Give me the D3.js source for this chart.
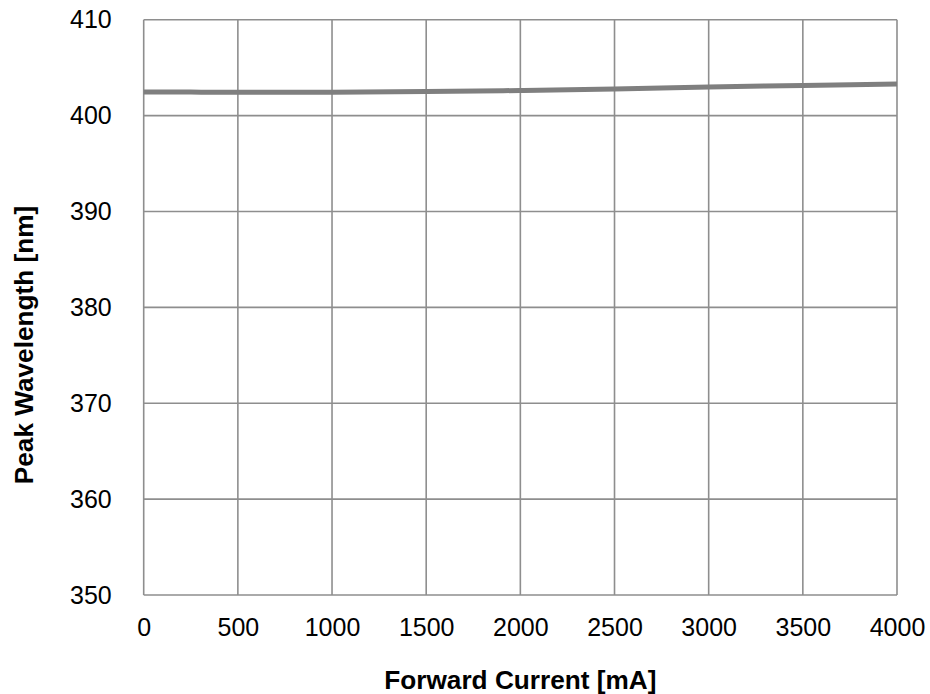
<!DOCTYPE html>
<html><head><meta charset="utf-8">
<script src="https://cdn.jsdelivr.net/npm/d3@7"></script>
<style>body{margin:0;background:#fff}svg{display:block}text{font-family:"Liberation Sans",Arial,sans-serif}</style>
</head><body>
<svg id="c" width="930" height="694"></svg>
<script>
const currents = [0, 250, 500, 750, 1000, 1500, 2000, 2500, 3000, 3500, 4000];
const wavelengths = [402.46, 402.45, 402.43, 402.43, 402.44, 402.5, 402.62, 402.78, 402.98, 403.14, 403.3];
const xTicks = [0, 500, 1000, 1500, 2000, 2500, 3000, 3500, 4000];
const yTicks = [350, 360, 370, 380, 390, 400, 410];
const xTitle = "Forward Current [mA]";
const yTitle = "Peak Wavelength [nm]";

const svg = d3.select("#c");
const L = 143.7, R = 897, T = 19.7, B = 595;
const x = d3.scaleLinear().domain([0, 4000]).range([L, R]);
const y = d3.scaleLinear().domain([350, 410]).range([B, T]);
const grid = "#8e8e8e";

svg.append("g").selectAll("line").data(xTicks).join("line")
  .attr("x1", d => x(d)).attr("x2", d => x(d)).attr("y1", T).attr("y2", B)
  .attr("stroke", grid).attr("stroke-width", 1.6);
svg.append("g").selectAll("line").data(yTicks).join("line")
  .attr("x1", L).attr("x2", R).attr("y1", d => y(d)).attr("y2", d => y(d))
  .attr("stroke", grid).attr("stroke-width", 1.6);

const xa = svg.append("g").attr("transform", `translate(0,${B})`)
  .call(d3.axisBottom(x).tickValues(xTicks).tickSize(0).tickPadding(23).tickFormat(d3.format("d")));
xa.select(".domain").remove();
xa.selectAll("text").attr("font-size", 25).attr("fill", "#000").attr("font-family", "Liberation Sans, Arial, sans-serif");

const ya = svg.append("g").attr("transform", `translate(${L},0)`)
  .call(d3.axisLeft(y).tickValues(yTicks).tickSize(0).tickPadding(32).tickFormat(d3.format("d")));
ya.select(".domain").remove();
ya.selectAll("text").attr("font-size", 25).attr("fill", "#000").attr("font-family", "Liberation Sans, Arial, sans-serif");

svg.append("path").datum(currents.map((c, i) => [c, wavelengths[i]]))
  .attr("d", d3.line().x(d => x(d[0])).y(d => y(d[1])).curve(d3.curveMonotoneX))
  .attr("fill", "none").attr("stroke", "#7f7f7f").attr("stroke-width", 5);

svg.append("text").attr("x", (L + R) / 2).attr("y", 689).attr("text-anchor", "middle")
  .attr("font-size", 26.2).attr("font-weight", "bold").text(xTitle);
svg.append("text").attr("transform", `translate(33,345) rotate(-90)`).attr("text-anchor", "middle")
  .attr("font-size", 26.2).attr("font-weight", "bold").text(yTitle);
</script>
</body></html>
